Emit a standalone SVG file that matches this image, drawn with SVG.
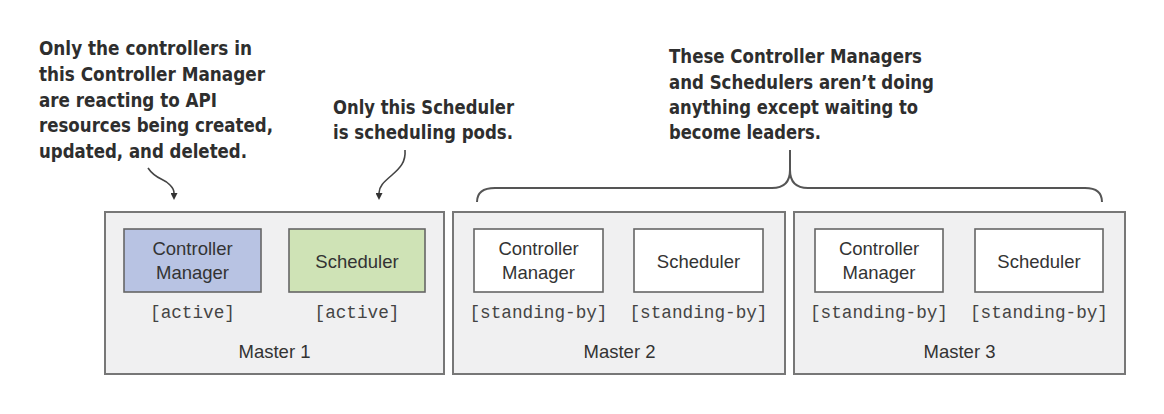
<svg xmlns="http://www.w3.org/2000/svg" width="1164" height="414" viewBox="0 0 1164 414">
<defs>
<style>
.note{font-family:"DejaVu Sans Condensed","DejaVu Sans",sans-serif;font-weight:bold;font-stretch:condensed;font-size:20px;fill:#2e2e2e}
.master{fill:#f0f0f1;stroke:#777;stroke-width:2}
.comp{stroke:#666;stroke-width:1.6}
.cm-active{fill:#b8c3e3}
.sch-active{fill:#cfe3b6}
.idle{fill:#ffffff}
.lbl{font-family:"Liberation Sans",Arial,sans-serif;font-size:18.5px;fill:#333;text-anchor:middle}
.state{font-family:"Liberation Mono","Courier New",monospace;font-size:17.7px;fill:#444;text-anchor:middle}
.conn{fill:none;stroke:#444;stroke-width:1.6}
.brace{fill:none;stroke:#555;stroke-width:2}
</style>
<marker id="arrow" viewBox="0 0 10 10" refX="0" refY="5" markerWidth="8" markerHeight="7" markerUnits="userSpaceOnUse" orient="auto">
<path d="M0,0 L10,5 L0,10 z" fill="#333"/>
</marker>
</defs>
<rect width="1164" height="414" fill="#ffffff"/>

<g id="note-controller-manager">
<text class="note" x="39" y="55" textLength="213" lengthAdjust="spacingAndGlyphs">Only the controllers in</text>
<text class="note" x="39" y="81" textLength="226" lengthAdjust="spacingAndGlyphs">this Controller Manager</text>
<text class="note" x="39" y="107" textLength="178" lengthAdjust="spacingAndGlyphs">are reacting to API</text>
<text class="note" x="39" y="132" textLength="234" lengthAdjust="spacingAndGlyphs">resources being created,</text>
<text class="note" x="39" y="158" textLength="208" lengthAdjust="spacingAndGlyphs">updated, and deleted.</text>
</g>

<g id="note-scheduler">
<text class="note" x="333" y="114" textLength="181" lengthAdjust="spacingAndGlyphs">Only this Scheduler</text>
<text class="note" x="333" y="139" textLength="180" lengthAdjust="spacingAndGlyphs">is scheduling pods.</text>
</g>

<g id="note-standby">
<text class="note" x="669" y="63" textLength="253" lengthAdjust="spacingAndGlyphs">These Controller Managers</text>
<text class="note" x="669" y="89" textLength="265" lengthAdjust="spacingAndGlyphs">and Schedulers aren’t doing</text>
<text class="note" x="669" y="114" textLength="249" lengthAdjust="spacingAndGlyphs">anything except waiting to</text>
<text class="note" x="669" y="139" textLength="152" lengthAdjust="spacingAndGlyphs">become leaders.</text>
</g>

<g id="master-1">
<rect class="master" x="105" y="212" width="339" height="162"/>
<rect class="comp cm-active" x="124" y="229" width="137" height="63"/>
<text class="lbl" x="192.5" y="255">Controller</text>
<text class="lbl" x="192.5" y="279">Manager</text>
<rect class="comp sch-active" x="289" y="229" width="136" height="63"/>
<text class="lbl" x="357" y="268">Scheduler</text>
<text class="state" x="192.5" y="318">[active]</text>
<text class="state" x="357" y="318">[active]</text>
<text class="lbl" x="274.5" y="358">Master 1</text>
</g>

<g id="master-2">
<rect class="master" x="453" y="212" width="332" height="162"/>
<rect class="comp idle" x="474" y="229" width="129" height="63"/>
<text class="lbl" x="538.5" y="255">Controller</text>
<text class="lbl" x="538.5" y="279">Manager</text>
<rect class="comp idle" x="634" y="229" width="129" height="63"/>
<text class="lbl" x="698.5" y="268">Scheduler</text>
<text class="state" x="538.5" y="318">[standing-by]</text>
<text class="state" x="698.5" y="318">[standing-by]</text>
<text class="lbl" x="619.5" y="358">Master 2</text>
</g>

<g id="master-3">
<rect class="master" x="794" y="212" width="331" height="162"/>
<rect class="comp idle" x="815" y="229" width="128" height="63"/>
<text class="lbl" x="879" y="255">Controller</text>
<text class="lbl" x="879" y="279">Manager</text>
<rect class="comp idle" x="975" y="229" width="128" height="63"/>
<text class="lbl" x="1039" y="268">Scheduler</text>
<text class="state" x="879" y="318">[standing-by]</text>
<text class="state" x="1039" y="318">[standing-by]</text>
<text class="lbl" x="959.5" y="358">Master 3</text>
</g>

<g id="connectors">
<path class="conn" d="M148,168 C156,180 164,178 170,185 C173,188 174,190 174,193" marker-end="url(#arrow)"/>
<path class="conn" d="M405,150 C406,162 400,168 392,175 C384,182 379,186 379,193" marker-end="url(#arrow)"/>
<path class="brace" d="M477,202 C477,193 483,188 495,188 L772,188 C785,188 790,181 790,170 L790,150 M790,170 C790,181 795,188 808,188 L1085,188 C1097,188 1102,193 1102,202"/>
</g>
</svg>
